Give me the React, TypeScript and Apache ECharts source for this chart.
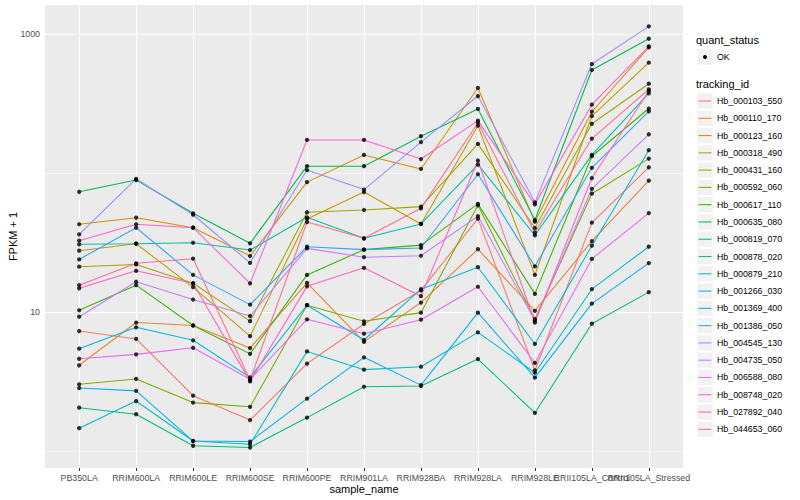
import React, { useEffect, useRef } from "react";
import * as echarts from "echarts";

const CATEGORIES = [
  "PB350LA", "RRIM600LA", "RRIM600LE", "RRIM600SE", "RRIM600PE", "RRIM901LA",
  "RRIM928BA", "RRIM928LA", "RRIM928LE", "RRII105LA_Control", "RRII105LA_Stressed",
];

const TRACKING_IDS = [
  "Hb_000103_550", "Hb_000110_170", "Hb_000123_160", "Hb_000318_490", "Hb_000431_160",
  "Hb_000592_060", "Hb_000617_110", "Hb_000635_080", "Hb_000819_070", "Hb_000878_020",
  "Hb_000879_210", "Hb_001266_030", "Hb_001369_400", "Hb_001386_050", "Hb_004545_130",
  "Hb_004735_050", "Hb_006588_080", "Hb_008748_020", "Hb_027892_040", "Hb_044653_060",
];

const COLORS = [
  "#F8766D", "#EA8331", "#D89000", "#C09B00", "#A3A500", "#7CAE00", "#39B600", "#00BB4E",
  "#00BF7D", "#00C1A3", "#00BFC4", "#00BAE0", "#00B0F6", "#35A2FF", "#9590FF", "#C77CFF",
  "#E76BF3", "#FA62DB", "#FF62BC", "#FF6C91",
];

// FPKM + 1 per sample (order of CATEGORIES)
const HB_000103_550 = [7.3, 6.4, 2.5, 1.67, 4.25, 8.2, 14.3, 47, 3.8, 44, 110];
const HB_000110_170 = [4.14, 8.4, 8.0, 5.5, 16.2, 6.1, 11.7, 28.3, 10.2, 32.4, 88];
const HB_000123_160 = [42.8, 47.7, 40.4, 25.3, 86, 135, 107, 409, 44.7, 276, 802];
const HB_000318_490 = [27.6, 31.0, 15.1, 6.7, 46.7, 73, 43, 219, 18.5, 257, 622];
const HB_000431_160 = [21.2, 22.0, 16.1, 8.6, 52.2, 54.2, 57.3, 162, 40.2, 226, 439];
const HB_000592_060 = [3.02, 3.3, 2.23, 2.08, 11.2, 8.57, 9.9, 58.6, 8.9, 71, 127];
const HB_000617_110 = [10.3, 15.6, 8.0, 5.0, 18.5, 28.1, 30.3, 60, 13.5, 132, 291];
const HB_000635_080 = [73.3, 89, 51.3, 31.2, 112, 112, 184, 289, 45.9, 551, 925];
const HB_000819_070 = [2.05, 1.84, 1.09, 1.06, 1.74, 2.9, 2.94, 4.59, 1.88, 8.24, 13.9];
const HB_000878_020 = [30.7, 31.0, 31.5, 27.9, 48, 33.9, 43, 115, 35.6, 135, 374];
const HB_000879_210 = [1.46, 2.29, 1.18, 1.12, 5.21, 3.85, 4.04, 7.14, 3.66, 14.6, 29.5];
const HB_001266_030 = [5.45, 7.76, 6.26, 3.39, 11.2, 6.29, 14.6, 21, 5.89, 30, 146];
const HB_001369_400 = [2.84, 2.71, 1.18, 1.17, 2.38, 4.72, 2.98, 9.9, 3.37, 11.5, 22.5];
const HB_001386_050 = [23.9, 40.4, 18.5, 11.3, 29.5, 28.1, 28.9, 98, 21.3, 109, 278];
const HB_004545_130 = [36.2, 90.6, 50.1, 22.6, 105, 76, 167, 358, 61.5, 608, 1135];
const HB_004735_050 = [9.25, 16.5, 12.3, 9.36, 28.7, 24.8, 25.4, 49, 8.66, 77, 190];
const HB_006588_080 = [4.61, 4.96, 5.53, 3.28, 8.86, 6.98, 8.81, 15.2, 4.3, 24.1, 51.5];
const HB_008748_020 = [32.6, 42.8, 40.4, 16.1, 173, 173, 126, 238, 59.5, 310, 816];
const HB_027892_040 = [14.8, 19.8, 16.1, 3.17, 15.3, 20.8, 13.0, 123, 8.4, 92, 389];
const HB_044653_060 = [15.6, 22.4, 24.2, 3.24, 44.4, 33.9, 55.7, 230, 37.2, 177, 400];

const SERIES_VALUES = [
  HB_000103_550, HB_000110_170, HB_000123_160, HB_000318_490, HB_000431_160,
  HB_000592_060, HB_000617_110, HB_000635_080, HB_000819_070, HB_000878_020,
  HB_000879_210, HB_001266_030, HB_001369_400, HB_001386_050, HB_004545_130,
  HB_004735_050, HB_006588_080, HB_008748_020, HB_027892_040, HB_044653_060,
];

const Y_TICKS = [10, 1000];
const Y_MINOR = [1, 100];
const Y_MIN = 0.755;
const Y_MAX = 1617;
const QUANT_STATUS = ["OK"];

const FONT = "'Liberation Sans', Arial, Helvetica, sans-serif";

export default function App() {
  const ref = useRef<HTMLDivElement>(null);

  useEffect(() => {
    document.body.style.margin = "0";
    if (!ref.current) return;
    const chart = echarts.init(ref.current, undefined, { renderer: "svg" });
    const xIdx = CATEGORIES.map((_, i) => i);
    const xEven = xIdx.filter((i) => i % 2 === 0);
    const xOdd = xIdx.filter((i) => i % 2 === 1);

    const lineSeries = SERIES_VALUES.map((vals, s) => ({
      type: "line",
      name: TRACKING_IDS[s],
      data: vals.map((v, i) => [i, v]),
      xAxisIndex: 0,
      showSymbol: false,
      symbol: "none",
      silent: true,
      z: 2,
      lineStyle: { color: COLORS[s], width: 1.07 },
      itemStyle: { color: COLORS[s] },
      emphasis: { disabled: true },
    }));

    const points: number[][] = [];
    SERIES_VALUES.forEach((vals) => vals.forEach((v, i) => points.push([i, v])));

    const KEY_X = 697.3;
    const KEY_W = 15.4;
    const STEP = 17.28;
    const KEY_TOP = 93.3;
    const legendChildren: any[] = [
      {
        type: "text",
        style: { text: "quant_status", x: 696, y: 40, fill: "#000", fontSize: 11, fontFamily: FONT, textVerticalAlign: "middle" },
      },
      ...QUANT_STATUS.flatMap((q, i) => [
        { type: "rect", shape: { x: KEY_X, y: 49.3 + i * STEP, width: KEY_W, height: KEY_W }, style: { fill: "#F2F2F2" } },
        { type: "circle", shape: { cx: KEY_X + KEY_W / 2, cy: 49.3 + i * STEP + KEY_W / 2, r: 2 }, style: { fill: "#000" } },
        {
          type: "text",
          style: { text: q, x: 717, y: 49.3 + i * STEP + KEY_W / 2, fill: "#000", fontSize: 8.8, fontFamily: FONT, textVerticalAlign: "middle" },
        },
      ]),
      {
        type: "text",
        style: { text: "tracking_id", x: 696, y: 84, fill: "#000", fontSize: 11, fontFamily: FONT, textVerticalAlign: "middle" },
      },
      ...TRACKING_IDS.flatMap((id, i) => {
        const top = KEY_TOP + i * STEP;
        const cy = top + KEY_W / 2;
        return [
          { type: "rect", shape: { x: KEY_X, y: top, width: KEY_W, height: KEY_W }, style: { fill: "#F2F2F2" } },
          { type: "line", shape: { x1: KEY_X + 1.2, y1: cy, x2: KEY_X + KEY_W - 1.2, y2: cy }, style: { stroke: COLORS[i], lineWidth: 1.07 } },
          {
            type: "text",
            style: { text: id, x: 717, y: cy, fill: "#000", fontSize: 8.8, fontFamily: FONT, textVerticalAlign: "middle" },
          },
        ];
      }),
    ];

    const labelStyle = {
      formatter: (v: number) => CATEGORIES[Math.round(v)] ?? "",
      color: "#4D4D4D", fontSize: 8.8, margin: 5, hideOverlap: false, fontFamily: FONT,
      showMinLabel: true, showMaxLabel: true,
    };

    const option: any = {
      animation: false,
      backgroundColor: "#FFFFFF",
      textStyle: { fontFamily: FONT },
      grid: {
        left: 45, top: 5, width: 638, height: 463,
        show: true, backgroundColor: "#EBEBEB", borderWidth: 0,
        containLabel: false, outerBoundsMode: "none",
      },
      xAxis: [
        {
          type: "value",
          position: "bottom",
          min: -0.6,
          max: 10.6,
          splitLine: { show: false },
          axisLine: { show: false },
          axisTick: { show: true, customValues: xIdx, length: 3, lineStyle: { color: "#333333", width: 1.07 } },
          axisLabel: { ...labelStyle, customValues: xEven },
          name: "sample_name",
          nameLocation: "middle",
          nameGap: 15,
          nameMoveOverlap: false,
          nameTextStyle: { fontSize: 11, color: "#000", fontFamily: FONT },
        },
        {
          type: "value",
          position: "bottom",
          offset: 0,
          min: -0.6,
          max: 10.6,
          splitLine: { show: false },
          axisLine: { show: false },
          axisTick: { show: false },
          axisLabel: { ...labelStyle, customValues: xOdd },
        },
      ],
      yAxis: {
        type: "log",
        logBase: 10,
        min: Y_MIN,
        max: Y_MAX,
        splitLine: { show: false },
        axisLine: { show: false },
        axisTick: { show: true, customValues: Y_TICKS, length: 3, lineStyle: { color: "#333333", width: 1.07 } },
        axisLabel: {
          customValues: Y_TICKS,
          formatter: (v: number) => String(Math.round(v)),
          color: "#4D4D4D", fontSize: 8.8, margin: 5, fontFamily: FONT,
          showMinLabel: true, showMaxLabel: true,
        },
        name: "FPKM + 1",
        nameLocation: "middle",
        nameGap: 27,
        nameMoveOverlap: false,
        nameTextStyle: { fontSize: 11, color: "#000", fontFamily: FONT },
      },
      graphic: legendChildren,
      series: [
        ...lineSeries,
        {
          type: "scatter",
          name: "points",
          data: points,
          xAxisIndex: 0,
          symbol: "circle",
          symbolSize: 4.3,
          silent: true,
          z: 3,
          itemStyle: { color: "#000000" },
          emphasis: { disabled: true },
          markLine: {
            z: 1,
            silent: true,
            symbol: ["none", "none"],
            label: { show: false },
            emphasis: { disabled: true },
            lineStyle: { color: "#FFFFFF", type: "solid", width: 1.07 },
            data: [
              ...xIdx.map((i) => ({ xAxis: i })),
              ...Y_TICKS.map((v) => ({ yAxis: v })),
              ...Y_MINOR.map((v) => ({ yAxis: v, lineStyle: { color: "#FFFFFF", type: "solid", width: 0.53 } })),
            ],
          },
        },
      ],
    };

    chart.setOption(option);
    return () => chart.dispose();
  }, []);

  return <div ref={ref} style={{ width: 800, height: 500 }} />;
}
